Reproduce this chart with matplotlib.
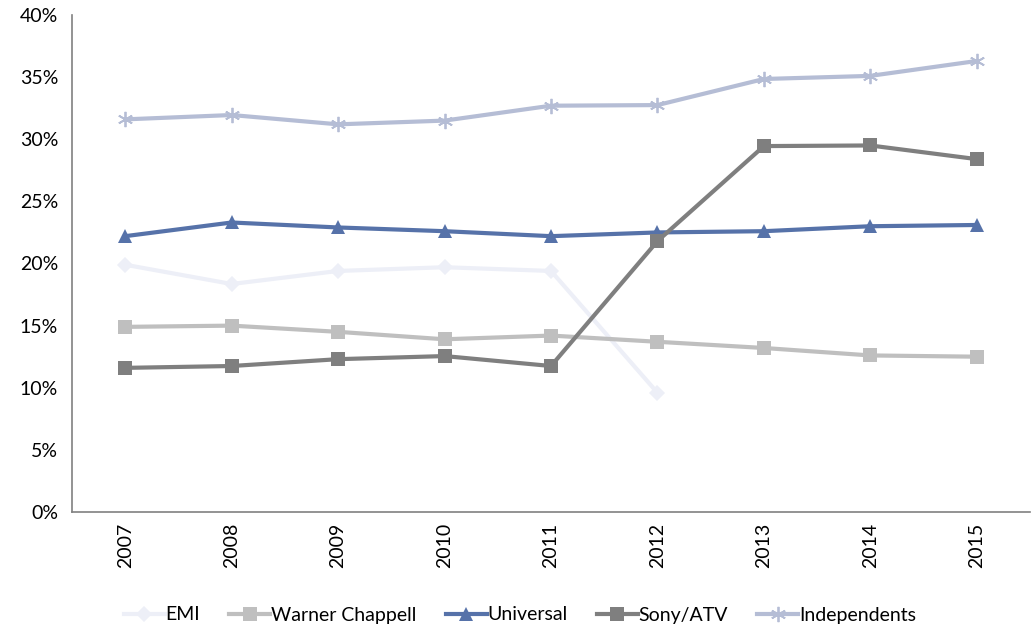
import matplotlib
matplotlib.use("Agg")
import matplotlib.pyplot as plt
from matplotlib.ticker import PercentFormatter

years = ["2007", "2008", "2009", "2010", "2011", "2012", "2013", "2014", "2015"]
emi = [19.9, 18.35, 19.4, 19.7, 19.4, 9.6, None, None, None]
warner = [14.9, 15.0, 14.5, 13.9, 14.2, 13.7, 13.2, 12.6, 12.5]
universal = [22.2, 23.3, 22.9, 22.6, 22.2, 22.5, 22.6, 23.0, 23.1]
sony = [11.6, 11.75, 12.3, 12.55, 11.75, 21.8, 29.45, 29.5, 28.4]
independents = [31.6, 31.95, 31.2, 31.5, 32.7, 32.75, 34.85, 35.1, 36.3]

plt.rcParams['font.family'] = ['Lato', 'DejaVu Sans']

W, H = 1033, 632
fig = plt.figure(figsize=(W/100, H/100), dpi=100)
ax = fig.add_axes([72/W, 1-512/H, (1030-72)/W, (512-15)/H])

x = list(range(len(years)))
def pts(vals):
    xs = [i for i, v in zip(x, vals) if v is not None]
    ys = [v for v in vals if v is not None]
    return xs, ys

series = [
    ("EMI", emi, "#EDEFF7", "D", 8.5),
    ("Warner Chappell", warner, "#BFBFBF", "s", 9.5),
    ("Universal", universal, "#5672A9", "^", 10.5),
    ("Sony/ATV", sony, "#7F7F7F", "s", 9.5),
    ("Independents", independents, "#B5BDD5", "x", 11),
]
for name, vals, col, m, ms in series:
    xs, ys = pts(vals)
    if m == "x":
        ax.plot(xs, ys, color=col, lw=3, marker=(6, 2, 0), ms=ms, markeredgecolor=col,
                markeredgewidth=1.3, label=name)
    else:
        ax.plot(xs, ys, color=col, lw=3, marker=m, ms=ms, markerfacecolor=col,
                markeredgecolor=col, markeredgewidth=0, label=name)

ax.set_xlim(-0.5, 8.5)
ax.set_ylim(0, 40)
ax.set_yticks(range(0, 41, 5))
ax.yaxis.set_major_formatter(PercentFormatter(decimals=0))
ax.set_xticks(x)
ax.set_xticklabels(years, rotation=90)
ax.tick_params(axis='both', length=0, labelsize=14, colors='#000000')
ax.tick_params(axis='y', pad=10)
ax.tick_params(axis='x', pad=8)
for s in ['top', 'right']:
    ax.spines[s].set_visible(False)
for s in ['left', 'bottom']:
    ax.spines[s].set_color('#808080')
    ax.spines[s].set_linewidth(1.2)

fig.legend(loc='center', bbox_to_anchor=(520/W, 1-615/H), ncol=5, frameon=False,
           fontsize=14, handlelength=2.1, handletextpad=0.05, columnspacing=1.5)

fig.savefig("out.png", dpi=100)
